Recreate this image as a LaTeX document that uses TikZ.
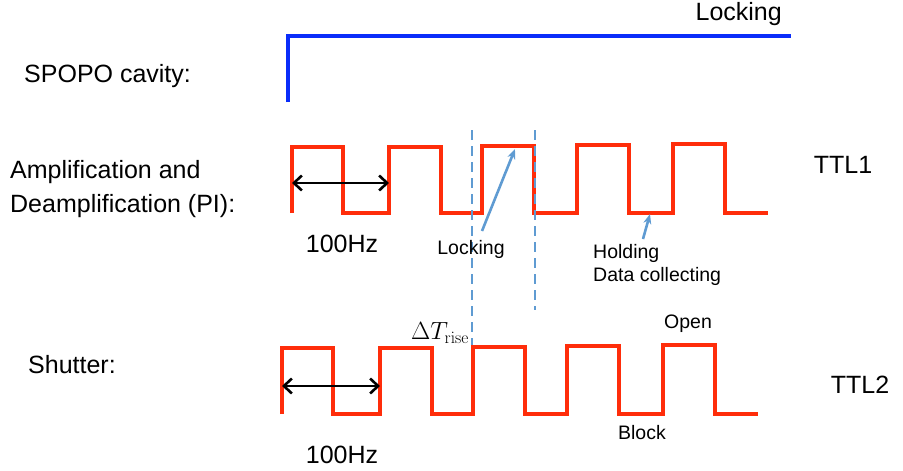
\documentclass[tikz,border=0pt]{standalone}
\usepackage[no-math]{fontspec}
\setmainfont{Liberation Sans}
\usepackage{xcolor}
\usetikzlibrary{arrows.meta, positioning}
\definecolor{ttlred}{RGB}{255, 45, 10}
\definecolor{lockblue}{RGB}{10, 45, 250}
\definecolor{markblue}{RGB}{95, 155, 210}

\begin{document}
\begin{tikzpicture}[x=1pt, y=-1pt,
    biglabel/.style={inner sep=0pt, font=\fontsize{25}{34}\selectfont},
    smalllabel/.style={inner sep=0pt, font=\fontsize{19.5}{23}\selectfont},
    ttl/.style={ttlred, line width=3.2pt},
    period/.style={black, line width=2.6pt, {Straight Barb[length=8pt,width=15pt]}-{Straight Barb[length=8pt,width=15pt]}},
    pointer/.style={markblue, line width=2.6pt, -{Stealth[length=10pt,width=8pt]}},
    marker/.style={markblue, line width=2.8pt, dash pattern=on 10pt off 6pt}]
\useasboundingbox (0,0) rectangle (903,471);

% row labels
\node[biglabel, anchor=west] (cavity) at (24,76) {SPOPO cavity:};
\node[biglabel, anchor=west, align=left] (ampl) at (10,189) {Amplification and\\Deamplification (PI):};
\node[biglabel, anchor=west] (shutter) at (28,365) {Shutter:};
\node[biglabel] (ttlone) at (843,165) {TTL1};
\node[biglabel] (ttltwo) at (860,385) {TTL2};

% cavity lock signal
\draw[lockblue, line width=3.4pt] (288,102) |- (791,36);
\node[biglabel, anchor=east] (locktop) at (782,14) {Locking};

% TTL1: amplification / deamplification
\draw[ttl] (292,213) |- (343,147) |- (389,213) |- (441,147) |- (482,213) |- (534,146)
    |- (577,213) |- (629,145) |- (673,213) |- (725,144) |- (768,213);
\coordinate (pa) at (292,183);
\coordinate (pb) at (389,183);
\draw[period] (pa) -- (pb);
\node[biglabel] (freqone) at (342,244) {100Hz};

% locking window
\coordinate (dashAtop) at (472,130);
\coordinate (dashAbot) at (472,345);
\coordinate (dashBtop) at (535,130);
\coordinate (dashBbot) at (535,310);
\draw[marker] (dashAtop) -- (dashAbot);
\draw[marker] (dashBtop) -- (dashBbot);

\node[smalllabel] (locklbl) at (471,249) {Locking};
\coordinate (lockfrom) at (482,231);
\coordinate (lockpt) at (515,149);
\draw[pointer] (lockfrom) -- (lockpt);

\node[smalllabel, anchor=west, align=left] (holdlbl) at (593,265) {Holding\\Data collecting};
\coordinate (holdfrom) at (643,239);
\coordinate (holdpt) at (650,214);
\draw[pointer] (holdfrom) -- (holdpt);

% TTL2: shutter
\draw[ttl] (282,414) |- (333,348) |- (380,414) |- (432,348) |- (473,414) |- (525,347)
    |- (567,414) |- (619,346) |- (663,414) |- (715,345) |- (758,414);
\coordinate (qa) at (282,386);
\coordinate (qb) at (380,386);
\draw[period] (qa) -- (qb);
\node[biglabel] (freqtwo) at (342,455) {100Hz};

\node[inner sep=0pt, font=\fontsize{24}{28}\selectfont] (rise) at (440,333) {$\Delta T_{\mathrm{rise}}$};
\node[smalllabel] (openlbl) at (688,324) {Open};
\node[smalllabel] (blocklbl) at (642,433) {Block};
\end{tikzpicture}
\end{document}
